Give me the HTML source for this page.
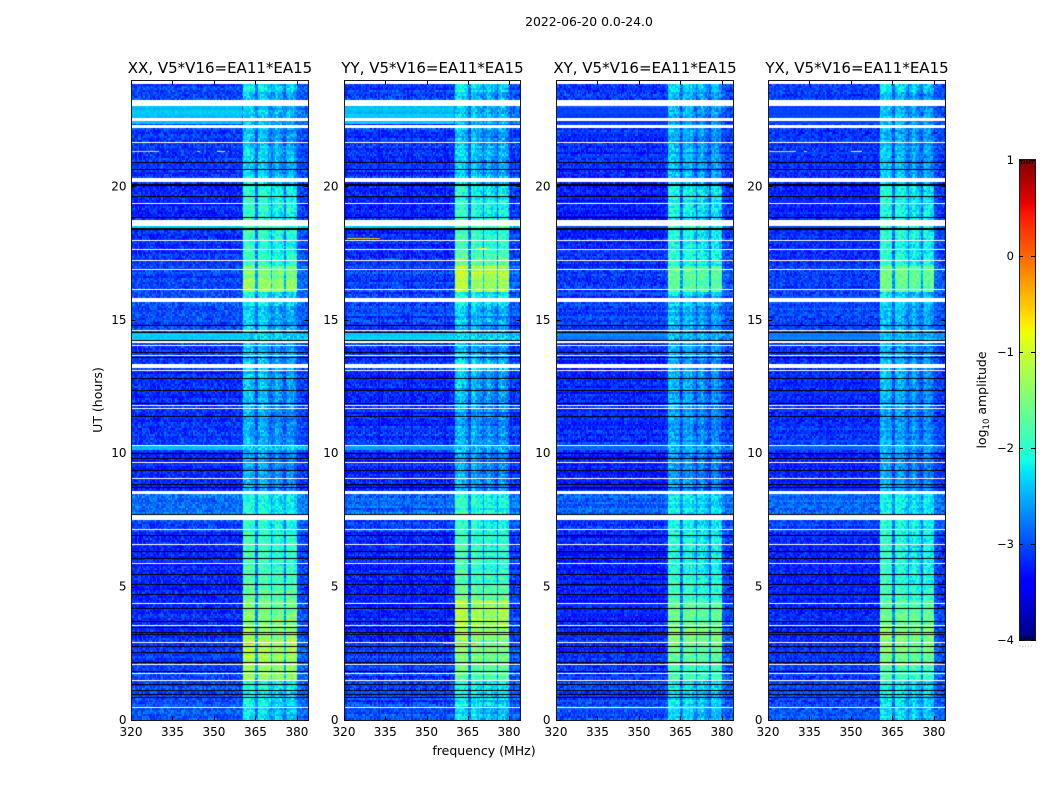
<!DOCTYPE html>
<html lang="en">
<head>
<meta charset="utf-8">
<title>2022-06-20 0.0-24.0</title>
<style>
html,body{margin:0;padding:0;background:#fff;}
#figure{position:relative;width:1050px;height:800px;overflow:hidden;background:#fff;}
#figure canvas{position:absolute;display:block;}
#overlay{position:absolute;left:0;top:0;}
text{font-family:"DejaVu Sans","Liberation Sans",sans-serif;fill:#000;}
</style>
</head>
<body>
<div id="figure">
<svg id="overlay" width="1050" height="800" viewBox="0 0 1050 800" xmlns="http://www.w3.org/2000/svg">
  <text x="589" y="26" font-size="12.4" text-anchor="middle">2022-06-20 0.0-24.0</text>
  <text x="484" y="755" font-size="12.5" text-anchor="middle">frequency (MHz)</text>
  <text x="102" y="400" font-size="12.5" text-anchor="middle" transform="rotate(-90 102 400)">UT (hours)</text>
  <text x="986" y="400" font-size="12.5" text-anchor="middle" transform="rotate(-90 986 400)">log<tspan font-size="8.5" dy="3">10</tspan><tspan dy="-3"> amplitude</tspan></text>
</svg>
</div>
<script>
// ---- Axis labels ----
const panelTitles = ["XX, V5*V16=EA11*EA15", "YY, V5*V16=EA11*EA15", "XY, V5*V16=EA11*EA15", "YX, V5*V16=EA11*EA15"];
const panelKeys = ["xx", "yy", "xy", "yx"];
const freqTicks = [320, 335, 350, 365, 380];
const hourTicks = [0, 5, 10, 15, 20];
const colorTicks = [1, 0, -1, -2, -3, -4];

// ---- Background level, log10 amplitude, one value per half hour from 0 UT ----
const backgroundLevels = [-2.95,-3.0,-3.0,-3.05,-3.1,-3.1,-3.15,-3.15,-3.2,-3.2,-3.2,-3.2,-3.2,-3.15,-3.05,-2.85,-2.85,-3.2,-3.2,-3.2,-3.05,-3.1,-3.15,-3.15,-3.15,-3.15,-3.15,-3.1,-3.05,-3.05,-3.0,-3.0,-3.05,-3.05,-3.1,-3.15,-3.15,-3.2,-3.2,-3.2,-3.15,-3.1,-3.1,-3.1,-3.1,-3.05,-3.05,-3.05];

// ---- Interference level above 360 MHz per half hour, one series per product ----
const rfiXX = [-2.1,-2.0,-1.9,-1.25,-1.15,-1.15,-1.25,-1.4,-1.45,-1.6,-1.7,-1.75,-1.75,-1.75,-1.85,-1.95,-1.95,-2.3,-2.35,-2.4,-2.3,-2.35,-2.4,-2.3,-2.2,-2.2,-2.2,-2.3,-2.3,-2.2,-2.2,-2.0,-1.25,-1.4,-1.8,-1.85,-1.8,-1.85,-1.8,-1.85,-2.1,-2.2,-2.1,-2.25,-2.3,-2.2,-2.2,-2.0];
const rfiYY = [-2.1,-2.0,-1.9,-1.6,-1.45,-1.4,-1.15,-1.1,-1.1,-1.55,-1.7,-1.75,-1.75,-1.75,-1.85,-1.85,-1.85,-2.3,-2.35,-2.4,-2.3,-2.35,-2.4,-2.3,-2.2,-2.2,-2.1,-2.25,-2.3,-2.2,-2.2,-1.9,-1.15,-1.05,-1.6,-1.75,-1.75,-1.85,-1.8,-1.9,-2.1,-2.2,-2.1,-2.25,-2.3,-2.2,-2.2,-2.0];
const rfiXY = [-2.1,-2.05,-2.0,-1.7,-1.6,-1.45,-1.4,-1.5,-1.6,-1.75,-1.8,-1.85,-1.85,-1.85,-1.9,-2.0,-2.0,-2.3,-2.4,-2.4,-2.3,-2.4,-2.4,-2.35,-2.3,-2.25,-2.25,-2.35,-2.3,-2.25,-2.25,-2.1,-1.6,-1.55,-1.85,-1.9,-1.85,-1.9,-1.9,-1.9,-2.15,-2.25,-2.2,-2.3,-2.3,-2.25,-2.25,-2.05];
const rfiYX = [-2.1,-2.05,-2.0,-1.7,-1.5,-1.4,-1.35,-1.5,-1.6,-1.75,-1.8,-1.85,-1.85,-1.85,-1.9,-2.0,-2.0,-2.3,-2.4,-2.4,-2.3,-2.4,-2.4,-2.35,-2.3,-2.25,-2.25,-2.35,-2.3,-2.25,-2.25,-2.1,-1.55,-1.5,-1.85,-1.9,-1.85,-1.9,-1.9,-1.9,-2.15,-2.25,-2.2,-2.3,-2.3,-2.25,-2.25,-2.05];
const rfiSeries = [rfiXX, rfiYY, rfiXY, rfiYX];

// ---- Relative interference strength per 0.5 MHz channel from 360 MHz up ----
const channelResponse = [0.05,1,1,1,1,1,1,1,1,1,0.3,0.3,0.92,0.95,0.95,0.95,0.95,0.95,0.95,0.95,0.92,0.35,0.9,0.9,0.92,0.92,0.92,0.92,0.92,0.9,0.9,0.35,0.92,0.95,0.95,0.95,0.95,0.95,0.95,0.95,0.14,0.12,0.1,0.1,0.1,0.08,0.08,0.08];
const faintChannelResponse = [0.05,0.8,0.88,0.9,0.88,0.85,0.75,0.85,0.75,0.62,0.2,0.3,0.78,0.8,0.85,0.8,0.7,0.75,0.65,0.55,0.42,0.2,0.42,0.58,0.68,0.72,0.62,0.52,0.48,0.38,0.3,0.2,0.48,0.62,0.7,0.7,0.62,0.56,0.46,0.32,0.14,0.12,0.1,0.1,0.08,0.08,0.06,0.06];

// ---- Short broadband bursts; burstHighBand is the share kept above 360 MHz ----
const burstStart = [22.56, 22.3, 14.24, 10.05, 18.37, 7.5];
const burstEnd = [23.02, 22.45, 14.5, 10.23, 18.52, 7.72];
const burstHighBand = [0.3, 0.3, 0.95, 0.95, 0.95, 0.95];
const burstXX = [-2.42, -2.45, -2.38, -2.5, -2.35, -2.85];
const burstYY = [-2.42, -2.45, -2.38, -2.55, -2.35, -2.6];
const burstXY = [-3.0, -3.0, -2.7, -2.85, -3.0, -2.85];
const burstYX = [-3.0, -3.0, -2.7, -2.85, -3.0, -2.85];
const burstSeries = [burstXX, burstYY, burstXY, burstYX];

// ---- Narrow interference streaks ----
const streakPanel = [0,0,0,0,0,3,3,3,1,0,0,0,0,1,1];
const streakHour = [21.33,21.33,21.33,21.33,21.33,21.33,21.33,21.33,18.05,2.55,2.9,3.75,3.75,2.9,17.7];
const streakFrom = [320.5,333,344,355,351,320.5,333,350,321,361,361,371,376,356,368];
const streakTo = [330,333.5,345,355.5,354,330,334,354,333,364,364,375,379,368,372];
const streakLevel = [-0.6,-0.6,-0.6,-0.6,-1.2,-0.6,-0.6,-0.8,-0.5,-0.3,-0.3,-0.6,-0.6,-0.2,-1.0];

// ---- Flagged rows, UT hours ----
const whiteStart = [23.84,23.02,22.45,22.2,21.62,20.15,19.34,18.52,17.97,17.63,17.2,16.87,16.12,15.67,14.59,14.12,14.03,13.65,13.19,13.07,11.76,11.68,10.27,9.63,9.04,8.48,7.5,7.13,6.57,5.86,4.36,3.52,2.89,2.07,1.72,1.46,0.46];
const whiteEnd = [24,23.24,22.55,22.3,21.66,20.31,19.38,18.75,18.0,17.66,17.23,16.9,16.15,15.82,14.62,14.2,14.06,13.68,13.34,13.1,11.79,11.71,10.3,9.66,9.07,8.58,7.68,7.16,6.6,5.89,4.39,3.55,2.92,2.1,1.75,1.49,0.49];
const blackStart = [20.87,20.6,20.02,19.6,18.81,18.37,14.77,14.49,14.22,13.76,13.58,12.78,12.33,11.87,11.36,9.99,9.78,9.35,8.83,8.7,7.69,6.9,6.31,6.04,5.45,5.07,4.68,4.17,3.68,3.46,3.28,3.18,2.76,2.5,2.13,1.79,1.32,1.08,0.95,0.83];
const blackEnd = [20.91,20.64,20.08,19.64,18.85,18.45,14.8,14.54,14.25,13.79,13.61,12.82,12.37,11.9,11.4,10.02,9.83,9.38,8.86,8.74,7.72,6.93,6.34,6.07,5.48,5.1,4.71,4.2,3.71,3.49,3.31,3.21,2.79,2.53,2.16,1.82,1.35,1.11,0.98,0.86];

// Fine grain only: a short typed texture table, not per-cell readings.
const grainTable = [-0.31,0.12,-0.08,0.27,-0.19,0.05,0.33,-0.26,0.16,-0.04,-0.36,0.22,0.09,-0.14,0.29,-0.22,0.02,0.18,-0.11,0.38,-0.29,0.07,-0.17,0.24,-0.03,0.14,-0.33,0.31,-0.06,0.2,-0.24,0.1,0.35,-0.12,-0.2,0.26,0.01,-0.28,0.17,-0.09,0.41,-0.16,0.04,-0.38,0.23,0.11,-0.02,-0.21];
const rowTexture = [0.03,-0.02,0.05,-0.04,0.01,0.06,-0.05,0.02,-0.01,0.04,-0.06,0.02,0.0,-0.03,0.07,-0.02,0.03,-0.04,0.01,-0.01,0.04,-0.03,0.05,-0.05];

// ---- Layout ----
const plotLefts = [131, 344, 556, 768];
const plotRights = [308, 520, 733, 945];
const plotTop = 81;
const plotBottom = 720;
const maxHour = 23.95;
const maxFreq = 384;
const rowHours = 0.075;
const channelMHz = 0.5;
const svgNS = "http://www.w3.org/2000/svg";
const figure = document.getElementById("figure");
const overlay = document.getElementById("overlay");

function xScale(panel, freq) {
  return plotLefts[panel] + (freq - 320) / (maxFreq - 320) * (plotRights[panel] - plotLefts[panel]);
}
function yScale(hour) {
  return plotBottom - hour / maxHour * (plotBottom - plotTop);
}
function jet(t) {
  function ramp(points) {
    if (t <= points[0][0]) return points[0][1];
    for (let i = 1; i < points.length; i++) {
      if (t <= points[i][0]) {
        const a = points[i - 1], b = points[i];
        return a[1] + (b[1] - a[1]) * (t - a[0]) / (b[0] - a[0]);
      }
    }
    return points[points.length - 1][1];
  }
  const r = ramp([[0.35, 0], [0.66, 1], [0.89, 1], [1, 0.5]]);
  const g = ramp([[0.125, 0], [0.375, 1], [0.64, 1], [0.91, 0]]);
  const b = ramp([[0, 0.5], [0.11, 1], [0.34, 1], [0.65, 0]]);
  return "rgb(" + Math.round(r * 255) + "," + Math.round(g * 255) + "," + Math.round(b * 255) + ")";
}
function colorOf(level) {
  return jet(Math.max(0, Math.min(1, (level + 4) / 5)));
}
function cellLevel(panel, hour, freq, row, col) {
  const bin = Math.min(47, Math.floor(hour * 2));
  let bg = backgroundLevels[bin];
  let inBurst = false;
  for (let i = 0; i < burstStart.length; i++) {
    if (hour >= burstStart[i] && hour < burstEnd[i] && burstSeries[panel][i] > bg) {
      const share = freq >= 360 ? burstHighBand[i] : 1;
      bg = bg + (burstSeries[panel][i] - bg) * share;
      inBurst = true;
    }
  }
  const rfi = Math.max(rfiSeries[panel][bin], bg);
  let response = 0;
  if (freq >= 360) {
    const ch = Math.min(channelResponse.length - 1, Math.round((freq - 360) / channelMHz));
    const blend = Math.max(0, Math.min(1, (rfi + 2.2) / 0.6));
    response = faintChannelResponse[ch] + (channelResponse[ch] - faintChannelResponse[ch]) * blend;
  }
  const grain = grainTable[(row * row * 3 + col * col * 5 + row * col * 7 + row * 11 + col * 13 + panel * 19) % grainTable.length];
  const stripe = rowTexture[(row * row + panel) % rowTexture.length];
  const panelOffset = panel >= 2 ? -0.05 : 0;
  const grainScale = (inBurst && freq < 360) ? 0.2 : 0.8;
  return bg + panelOffset + response * (rfi - bg) + grain * grainScale + stripe;
}
function drawPanel(panel) {
  const canvas = document.createElement("canvas");
  
  
  const left = plotLefts[panel];
  const right = plotRights[panel];
  canvas.width = right - left;
  canvas.height = plotBottom - plotTop;
  canvas.style.left = left + "px";
  canvas.style.top = plotTop + "px";
  figure.insertBefore(canvas, overlay);
  const ctx = canvas.getContext("2d");
  const rows = Math.ceil(maxHour / rowHours);
  const cols = Math.round((maxFreq - 320) / channelMHz);
  for (let row = 0; row < rows; row++) {
    const hour = row * rowHours;
    const y0 = Math.round(yScale(hour + rowHours)) - plotTop;
    const y1 = Math.round(yScale(hour)) - plotTop;
    for (let col = 0; col < cols; col++) {
      const freq = 320 + col * channelMHz;
      const x0 = Math.round(xScale(panel, freq)) - left;
      const x1 = Math.round(xScale(panel, freq + channelMHz)) - left;
      ctx.fillStyle = colorOf(cellLevel(panel, hour, freq, row, col));
      ctx.fillRect(x0, y0, x1 - x0, y1 - y0);
    }
  }
  for (let i = 0; i < streakHour.length; i++) {
    if (streakPanel[i] !== panel) continue;
    ctx.fillStyle = colorOf(streakLevel[i]);
    const x0 = Math.round(xScale(panel, streakFrom[i])) - left;
    const x1 = Math.round(xScale(panel, streakTo[i])) - left;
    ctx.fillRect(x0, Math.round(yScale(streakHour[i])) - plotTop, Math.max(1, x1 - x0), 1);
  }
  function flags(starts, ends, color) {
    ctx.fillStyle = color;
    for (let i = 0; i < starts.length; i++) {
      const y0 = Math.round(yScale(ends[i])) - plotTop;
      const y1 = Math.round(yScale(starts[i])) - plotTop;
      ctx.fillRect(0, y0, canvas.width, Math.max(1, y1 - y0));
    }
  }
  flags(blackStart, blackEnd, "#000");
  flags(whiteStart, whiteEnd, "#fff");
}
function addLine(x1, y1, x2, y2, stroke) {
  const el = document.createElementNS(svgNS, "line");
  el.setAttribute("x1", x1);
  el.setAttribute("y1", y1);
  el.setAttribute("x2", x2);
  el.setAttribute("y2", y2);
  el.setAttribute("stroke", stroke || "#000");
  el.setAttribute("stroke-width", "1");
  overlay.appendChild(el);
  return el;
}
function addText(x, y, content, anchor, size) {
  const el = document.createElementNS(svgNS, "text");
  el.setAttribute("x", x);
  el.setAttribute("y", y);
  el.setAttribute("text-anchor", anchor);
  el.setAttribute("font-size", size);
  el.textContent = content;
  overlay.appendChild(el);
  return el;
}
function drawAxes(panel) {
  const key = panelKeys[panel];
  const left = plotLefts[panel] + 0.5;
  const right = plotRights[panel] + 0.5;
  const frame = document.createElementNS(svgNS, "rect");
  frame.setAttribute("x", left);
  frame.setAttribute("y", plotTop - 0.5);
  frame.setAttribute("width", right - left);
  frame.setAttribute("height", plotBottom - plotTop + 1);
  frame.setAttribute("fill", "none");
  frame.setAttribute("stroke", "#1a1a1a");
  
  
  overlay.appendChild(frame);
  const title = addText((left + right) / 2, 73, panelTitles[panel], "middle", 15);
  
  
  freqTicks.forEach(function (freq) {
    const x = Math.round(xScale(panel, freq)) + 0.5;
    const bottomTick = addLine(x, plotBottom, x, plotBottom - 4);
    
    
    const topTick = addLine(x, plotTop, x, plotTop + 4);
    
    
    const label = addText(xScale(panel, freq), 736, String(freq), "middle", 12);
    
    
  });
  hourTicks.forEach(function (hour) {
    const y = Math.round(yScale(hour)) + 0.5;
    const leftTick = addLine(left, y, left + 4, y);
    
    
    const rightTick = addLine(right, y, right - 4, y);
    
    
    const label = addText(plotLefts[panel] - (panel === 0 ? 4.5 : 5.5), yScale(hour) + 4, String(hour), "end", 12);
    
    
  });
}
function drawColorbar() {
  const barLeft = 1019, barRight = 1035, barTop = 160, barBottom = 640;
  const canvas = document.createElement("canvas");
  
  
  canvas.width = barRight - barLeft;
  canvas.height = barBottom - barTop;
  canvas.style.left = barLeft + "px";
  canvas.style.top = barTop + "px";
  figure.insertBefore(canvas, overlay);
  const ctx = canvas.getContext("2d");
  for (let y = 0; y < canvas.height; y++) {
    ctx.fillStyle = jet(1 - (y + 0.5) / canvas.height);
    ctx.fillRect(0, y, canvas.width, 1);
  }
  const frame = document.createElementNS(svgNS, "rect");
  frame.setAttribute("x", barLeft + 0.5);
  frame.setAttribute("y", barTop - 0.5);
  frame.setAttribute("width", barRight - barLeft);
  frame.setAttribute("height", barBottom - barTop + 1);
  frame.setAttribute("fill", "none");
  frame.setAttribute("stroke", "#1a1a1a");
  
  
  overlay.appendChild(frame);
  colorTicks.forEach(function (value) {
    const exact = barBottom - (value + 4) / 5 * (barBottom - barTop);
    const y = Math.round(exact) + 0.5;
    const leftTick = addLine(barLeft, y, barLeft + 4, y);
    
    
    const rightTick = addLine(barRight, y, barRight - 4, y);
    
    
    const label = addText(1014, exact + 4, String(value).replace("-", "\u2212"), "end", 11.5);
    
    
  });
  for (let x = barLeft + 2.5; x < barRight; x += 2.8) {
    const topMinor = addLine(x, barTop, x, barTop + 4);
    
    
    const bottomMinor = addLine(x, barBottom, x, barBottom - 4);
    
    
    const dot = addLine(x - 2, 646, x - 1, 646, "#aaa");
    
    
  }
}
panelTitles.forEach(function (unused, panel) {
  drawPanel(panel);
  drawAxes(panel);
});
drawColorbar();
</script>
</body>
</html>
